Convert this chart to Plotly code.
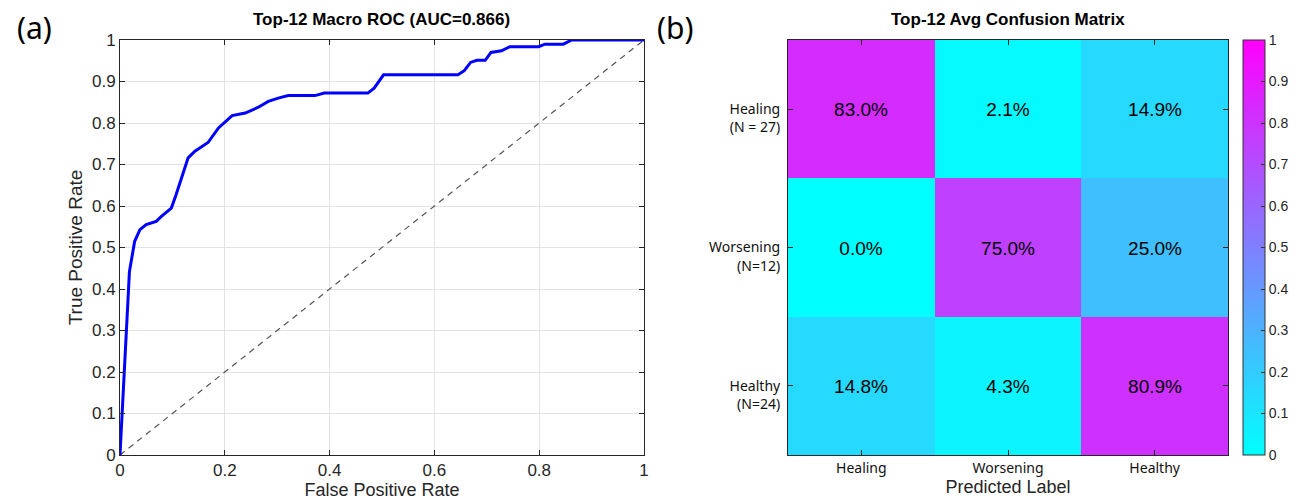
import plotly.graph_objects as go

# ROC curve (macro-averaged)
fpr = [0.0, 0.018, 0.028, 0.038, 0.050, 0.069, 0.079, 0.098, 0.107, 0.119, 0.130, 0.143,
       0.168, 0.188, 0.214, 0.239, 0.264, 0.283, 0.302, 0.321, 0.372, 0.390, 0.473,
       0.485, 0.503, 0.548, 0.645, 0.657, 0.669, 0.681, 0.697, 0.708, 0.728, 0.744,
       0.799, 0.811, 0.846, 0.862, 1.0]
tpr = [0.0, 0.442, 0.515, 0.543, 0.555, 0.563, 0.575, 0.595, 0.627, 0.672, 0.716, 0.732,
       0.753, 0.788, 0.818, 0.824, 0.838, 0.852, 0.860, 0.866, 0.866, 0.872, 0.872,
       0.884, 0.916, 0.916, 0.916, 0.926, 0.946, 0.951, 0.951, 0.970, 0.974, 0.984,
       0.984, 0.990, 0.990, 1.0, 1.0]
chance = [0, 1]

# Confusion matrix (row-normalised)
true_labels = ["Healing<br>(N = 27)", "Worsening<br>(N=12)", "Healthy<br>(N=24)"]
pred_labels = ["Healing", "Worsening", "Healthy"]
cm = [[0.830, 0.021, 0.149],
      [0.000, 0.750, 0.250],
      [0.148, 0.043, 0.809]]

roc_title = "Top-12 Macro ROC (AUC=0.866)"
cm_title = "Top-12 Avg Confusion Matrix"

W, H = 1297, 501
def px(x): return x / W
def py(y): return 1 - y / H

tickc = "#262626"
grid = "#e3e3e3"
fam = "Liberation Sans, Arial, sans-serif"
cal = "Noto Sans, sans-serif"

fig = go.Figure()
fig.add_trace(go.Scatter(x=chance, y=chance, mode="lines",
                         line=dict(color="#555555", width=1.2, dash="6px,5px"),
                         xaxis="x", yaxis="y", showlegend=False, hoverinfo="skip"))
fig.add_trace(go.Scatter(x=fpr, y=tpr, mode="lines",
                         line=dict(color="#0000ff", width=3),
                         xaxis="x", yaxis="y", showlegend=False))

text = [[f"{v*100:.1f}%" for v in row] for row in cm]
fig.add_trace(go.Heatmap(z=cm, x=[0, 1, 2], y=[0, 1, 2], xaxis="x2", yaxis="y2",
                         zmin=0, zmax=1,
                         colorscale=[[0, "rgb(0,255,255)"], [1, "rgb(255,0,255)"]],
                         text=text, texttemplate="%{text}",
                         textfont=dict(size=19, color="black", family=fam),
                         colorbar=dict(x=px(1235), xanchor="left", xpad=0, ypad=0,
                                       thickness=22, thicknessmode="pixels",
                                       len=(447 - 32) / H, lenmode="fraction",
                                       y=py(447), yanchor="bottom",
                                       outlinewidth=1, outlinecolor="#333",
                                       tickvals=[i / 10 for i in range(11)],
                                       ticktext=["0"] + [f"{i/10:.1f}" for i in range(1, 10)] + ["1"],
                                       ticks="inside", ticklen=4, tickcolor="#333",
                                       tickfont=dict(size=14, color=tickc, family=fam))))

axis_common = dict(showline=True, linecolor="#262626", linewidth=1, mirror="ticks",
                   ticks="inside", ticklen=5, tickcolor="#262626", automargin=False,
                   tickfont=dict(size=17, color=tickc, family=fam), zeroline=False)

fig.update_layout(
    width=W, height=H, margin=dict(l=0, r=0, t=0, b=0, autoexpand=False),
    paper_bgcolor="white", plot_bgcolor="white",
    xaxis=dict(domain=[px(112), px(636)], range=[0, 1], anchor="y",
               tickvals=[0, 0.2, 0.4, 0.6, 0.8, 1], ticktext=["0", "0.2", "0.4", "0.6", "0.8", "1"],
               showgrid=True, gridcolor=grid,
               title=dict(text="False Positive Rate", font=dict(size=18, color=tickc, family=fam), standoff=3),
               **axis_common),
    yaxis=dict(domain=[py(447), py(32)], range=[0, 1], anchor="x",
               tickvals=[i / 10 for i in range(11)],
               ticktext=["0"] + [f"{i/10:.1f}" for i in range(1, 10)] + ["1"],
               showgrid=True, gridcolor=grid,
               title=dict(text="True Positive Rate", font=dict(size=19, color=tickc, family=fam), standoff=4),
               **axis_common),
    xaxis2=dict(domain=[px(780), px(1220)], range=[-0.5, 2.5], anchor="y2",
                tickvals=[0, 1, 2], ticktext=pred_labels, showgrid=False,
                title=dict(text="Predicted Label", font=dict(size=18, color=tickc, family=fam), standoff=3),
                **{**axis_common, "tickfont": dict(size=14, color="#111", family=cal)}),
    yaxis2=dict(domain=[py(447), py(32)], range=[2.5, -0.5], anchor="x2",
                tickvals=[0, 1, 2], ticktext=[" <br>" + t for t in true_labels], showgrid=False,
                ticklabelstandoff=4,
                **{**axis_common, "tickfont": dict(size=14, color="#111", family=cal)}),
    annotations=[
        dict(text=f"<b>{roc_title}</b>", x=px(374), y=py(12), xref="paper", yref="paper",
             xanchor="center", yanchor="middle",
             showarrow=False, font=dict(size=17, color="black", family=fam)),
        dict(text=f"<b>{cm_title}</b>", x=px(1000), y=py(12), xref="paper", yref="paper",
             xanchor="center", yanchor="middle",
             showarrow=False, font=dict(size=17, color="black", family=fam)),
        dict(text="(a)", x=px(26), y=py(20), xref="paper", yref="paper",
             xanchor="center", yanchor="middle",
             showarrow=False, font=dict(size=30, color="black", family=cal)),
        dict(text="(b)", x=px(667), y=py(20), xref="paper", yref="paper",
             xanchor="center", yanchor="middle",
             showarrow=False, font=dict(size=30, color="black", family=cal)),
    ],
)

fig.write_html("out.html")
